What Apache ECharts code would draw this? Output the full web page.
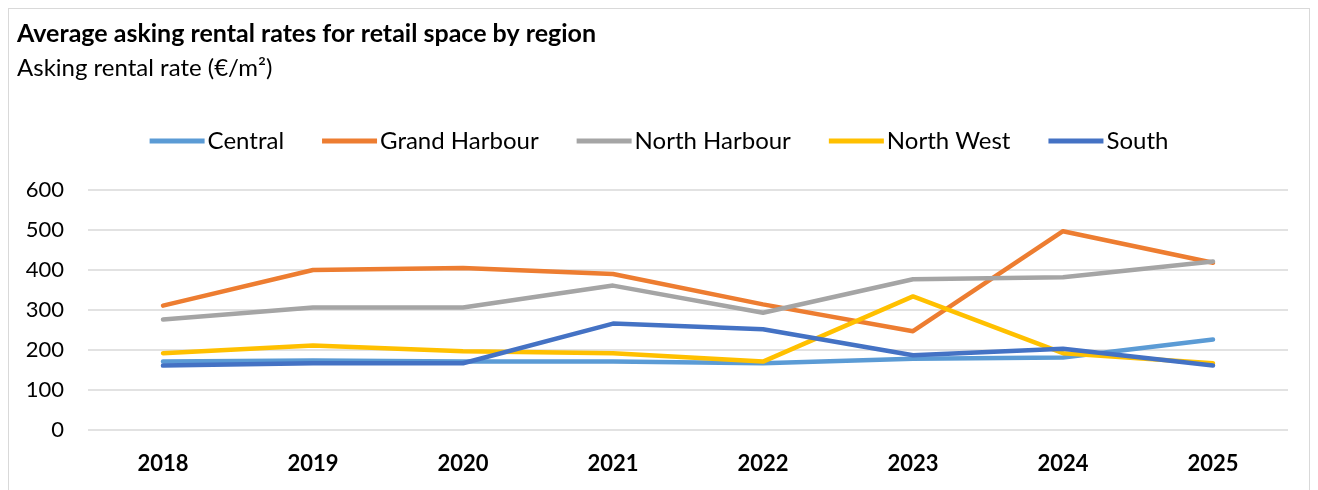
<!DOCTYPE html>
<html>
<head>
<meta charset="utf-8">
<script src="https://cdn.jsdelivr.net/npm/echarts@6/dist/echarts.min.js"></script>
<style>
  html, body { margin: 0; padding: 0; background: #fff; }
  #frame { position: absolute; left: 8px; top: 8px; width: 1302px; height: 490px; border: 1px solid #d9d9d9; box-sizing: border-box; }
  #chart { position: absolute; left: 0; top: 0; width: 1318px; height: 490px; }
</style>
</head>
<body>
<div id="frame"></div>
<div id="chart"></div>
<script>
const years = ['2018', '2019', '2020', '2021', '2022', '2023', '2024', '2025']
const central = [171, 174, 171, 171, 167, 178, 181, 226]
const grandHarbour = [311, 400, 405, 390, 314, 247, 497, 418]
const northHarbour = [276, 306, 306, 361, 293, 377, 382, 421]
const northWest = [192, 211, 197, 192, 171, 334, 192, 167]
const south = [161, 167, 167, 266, 252, 187, 203, 161]

const font = 'Lato, "Open Sans", sans-serif'

const chart = echarts.init(document.getElementById('chart'))

const mk = (name, data, color) => ({
  name,
  type: 'line',
  data,
  symbol: 'none',
  lineStyle: { width: 4.5, color, cap: 'round', join: 'round' },
  itemStyle: { color },
  animation: false
})

chart.setOption({
  animation: false,
  textStyle: { fontFamily: font },
  title: {
    text: 'Average asking rental rates for retail space by region',
    subtext: 'Asking rental rate (€/m²)',
    left: 12,
    top: 16,
    itemGap: 10,
    textStyle: { fontFamily: font, fontSize: 25, fontWeight: 'bold', color: '#000' },
    subtextStyle: { fontFamily: font, fontSize: 24, color: '#000' }
  },
  legend: {
    top: 124,
    left: 'center',
    icon: 'rect',
    itemWidth: 55,
    itemHeight: 5,
    itemGap: 38,
    textStyle: { fontFamily: font, fontSize: 24, color: '#000', padding: [0, 0, 0, -2] },
    data: ['Central', 'Grand Harbour', 'North Harbour', 'North West', 'South']
  },
  grid: { left: 88, right: 30, top: 190, bottom: 60 },
  xAxis: {
    type: 'category',
    data: years,
    boundaryGap: true,
    axisLine: { show: false },
    axisTick: { show: false },
    axisLabel: { fontFamily: font, fontSize: 22, fontWeight: 'bold', color: '#000', margin: 23 }
  },
  yAxis: {
    type: 'value',
    min: 0,
    max: 600,
    interval: 100,
    axisLine: { show: false },
    axisTick: { show: false },
    splitLine: { lineStyle: { color: '#d9d9d9', width: 1.5 } },
    axisLabel: { fontFamily: font, fontSize: 22, color: '#000', margin: 24 }
  },
  series: [
    mk('Central', central, '#5B9BD5'),
    mk('Grand Harbour', grandHarbour, '#ED7D31'),
    mk('North Harbour', northHarbour, '#A5A5A5'),
    mk('North West', northWest, '#FFC000'),
    mk('South', south, '#4472C4')
  ]
})
</script>
</body>
</html>
